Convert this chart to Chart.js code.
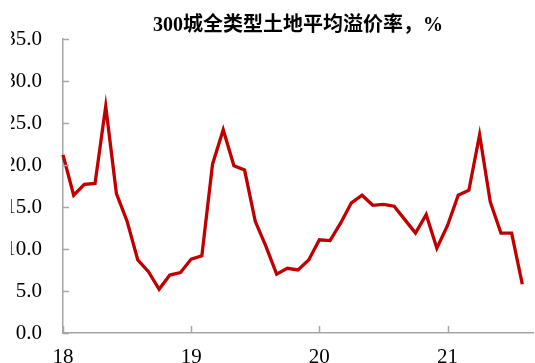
<!DOCTYPE html>
<html>
<head>
<meta charset="utf-8">
<script src="https://cdn.jsdelivr.net/npm/chart.js@4/dist/chart.umd.min.js"></script>
<style>
  html, body { margin: 0; padding: 0; background: #ffffff; overflow: hidden; }
  /* the visible frame starts a little in from the left edge */
  #frame { position: absolute; left: 11px; top: 0; width: 524px; height: 363px; overflow: hidden; }
  #c { position: absolute; left: -11px; top: 0; }
</style>
</head>
<body>
<div id="frame"><canvas id="c" width="545" height="375"></canvas></div>
<script>
// Monthly categories, Jan 2018 onward (last category has no value yet)
const months = [
  '2018-01','2018-02','2018-03','2018-04','2018-05','2018-06','2018-07','2018-08','2018-09','2018-10','2018-11','2018-12',
  '2019-01','2019-02','2019-03','2019-04','2019-05','2019-06','2019-07','2019-08','2019-09','2019-10','2019-11','2019-12',
  '2020-01','2020-02','2020-03','2020-04','2020-05','2020-06','2020-07','2020-08','2020-09','2020-10','2020-11','2020-12',
  '2021-01','2021-02','2021-03','2021-04','2021-05','2021-06','2021-07','2021-08','2021-09'
];

// Average land premium rate across 300 cities, all land types (%)
const premiumRate = [
  21.2, 16.4, 17.7, 17.8, 27.0, 16.6, 13.3, 8.7, 7.3, 5.2, 6.9, 7.2,
  8.8, 9.2, 20.1, 24.2, 19.9, 19.4, 13.3, 10.3, 7.0, 7.7, 7.5, 8.7,
  11.1, 11.0, 13.1, 15.5, 16.4, 15.2, 15.3, 15.1, 13.5, 11.9, 14.1, 10.1,
  12.8, 16.4, 17.0, 23.6, 15.6, 11.9, 11.9, 5.8
];

// Year labels shown at each January
const yearTicks = { '2018-01': '18', '2019-01': '19', '2020-01': '20', '2021-01': '21' };
const yTicks = [0, 5, 10, 15, 20, 25, 30, 35];

const titleText = '300城全类型土地平均溢价率，%';
const serif = "'Liberation Serif', 'Times New Roman', 'Noto Sans CJK SC', serif";
const axisGray = '#a6a6a6';

// Short tick marks pointing into the plot area
const innerTicks = {
  id: 'innerTicks',
  afterDatasetsDraw(chart) {
    const { ctx, chartArea, scales } = chart;
    ctx.save();
    ctx.strokeStyle = axisGray;
    ctx.lineWidth = 1.5;
    ctx.beginPath();
    yTicks.forEach(v => {
      const y = Math.round(scales.y.getPixelForValue(v)) + 0.5;
      ctx.moveTo(chartArea.left, y);
      ctx.lineTo(chartArea.left + 6, y);
    });
    months.forEach((m, i) => {
      if (yearTicks[m]) {
        const x = Math.round(scales.x.getPixelForValue(i)) + 0.5;
        ctx.moveTo(x, chartArea.bottom);
        ctx.lineTo(x, chartArea.bottom - 7);
      }
    });
    ctx.stroke();
    ctx.restore();
  }
};

new Chart(document.getElementById('c'), {
  type: 'line',
  data: {
    labels: months,
    datasets: [{
      data: premiumRate,
      borderColor: '#c00000',
      borderWidth: 3.3,
      pointRadius: 0,
      tension: 0,
      fill: false,
      clip: false
    }]
  },
  options: {
    responsive: false,
    animation: false,
    devicePixelRatio: 1,
    layout: { padding: { left: 0, right: 3, top: 0, bottom: 0 } },
    plugins: {
      legend: { display: false },
      tooltip: { enabled: false },
      title: {
        display: true,
        fullSize: false,
        text: titleText,
        color: '#000000',
        font: { family: serif, size: 20, weight: 'bold' },
        padding: { top: 14, bottom: 1 }
      }
    },
    scales: {
      x: {
        type: 'category',
        offset: false,
        grid: { display: false, drawTicks: false },
        border: { display: true, color: axisGray, width: 1.5 },
        ticks: {
          autoSkip: false,
          maxRotation: 0,
          padding: 12,
          color: '#000000',
          font: { family: serif, size: 21 },
          callback(value) { return yearTicks[months[value]] || ''; }
        },
        afterFit(scale) { scale.height = 42; }
      },
      y: {
        min: 0,
        max: 35,
        grid: { display: false, drawTicks: false },
        border: { display: true, color: axisGray, width: 1.5 },
        ticks: {
          stepSize: 5,
          padding: 21,
          color: '#000000',
          font: { family: serif, size: 21 },
          callback(value) { return Number(value).toFixed(1); }
        },
        afterFit(scale) { scale.width = 63; }
      }
    }
  },
  plugins: [innerTicks]
});
</script>
</body>
</html>
